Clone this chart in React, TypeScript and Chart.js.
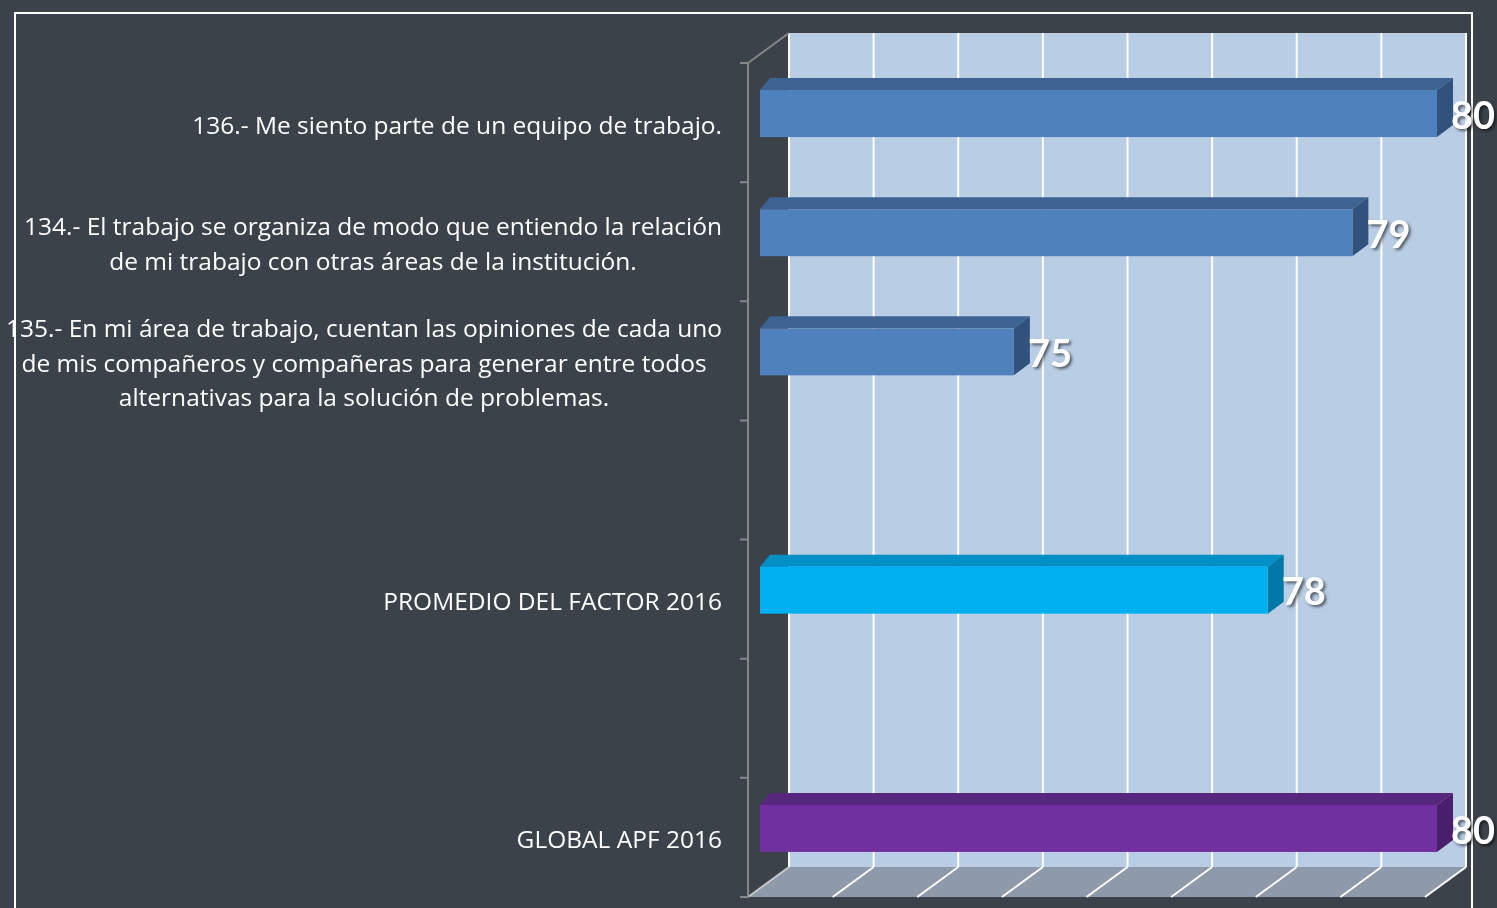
import React, { useEffect, useRef } from "react";
import { Chart, registerables } from "chart.js";

Chart.register(...registerables);

// ---------- data ----------
const categoryLines: string[][] = [
  ["136.- Me siento parte de un equipo de trabajo."],
  [
    "134.- El trabajo se organiza de modo que entiendo la relación",
    "de mi trabajo con otras áreas de la institución.",
  ],
  [
    "135.- En mi área de trabajo, cuentan las opiniones de cada uno",
    "de mis compañeros y compañeras para generar entre todos",
    "alternativas para la solución de problemas.",
  ],
  [""],
  ["PROMEDIO DEL FACTOR 2016"],
  [""],
  ["GLOBAL APF 2016"],
];
const values: (number | null)[] = [80, 79, 75, null, 78, null, 80];
const barKinds: string[] = ["item", "item", "item", "", "factor", "", "global"];
const axisMin = 72;
const axisMax = 80;
const axisStep = 1;

// ---------- styles ----------
const BG = "#3b424a";
const WALL = "#b9cde5";
const FLOOR = "#8e9aa9";
const palette: Record<string, { front: string; top: string; side: string }> = {
  item: { front: "#4f81bd", top: "#3d6392", side: "#30527d" },
  factor: { front: "#00b0f0", top: "#0090c6", side: "#0079a8" },
  global: { front: "#7030a0", top: "#57267d", side: "#4a1f6c" },
};
const LABEL_FONT = '24.5px "Open Sans", Lato, sans-serif';
const VALUE_FONT = 'bold 38px Lato, "Open Sans", sans-serif';

const WALL_DX = 41;
const WALL_DY = 30;
const BAR_DX = 12;
const BAR_DY = -9;
const TOP_DY = 12;
const LEFT_DEPTH = 10;
const RIGHT_DEPTH = 16;

const decorPlugin = {
  id: "decor3d",
  beforeDraw(chart: any) {
    const { ctx, width, height } = chart;
    ctx.save();
    ctx.fillStyle = BG;
    ctx.fillRect(0, 0, width, height);
    ctx.strokeStyle = "#ffffff";
    ctx.lineWidth = 2;
    ctx.strokeRect(15, 13, 1457, height + 20);
    ctx.restore();
  },
  beforeDatasetsDraw(chart: any) {
    const { ctx, chartArea } = chart;
    const xs = chart.scales.x;
    const { left, right, top, bottom } = chartArea;
    ctx.save();
    // back wall
    ctx.fillStyle = WALL;
    ctx.fillRect(left + WALL_DX, top - WALL_DY, right - left, bottom - top);
    // floor
    ctx.fillStyle = FLOOR;
    ctx.beginPath();
    ctx.moveTo(left, bottom);
    ctx.lineTo(right, bottom);
    ctx.lineTo(right + WALL_DX, bottom - WALL_DY);
    ctx.lineTo(left + WALL_DX, bottom - WALL_DY);
    ctx.closePath();
    ctx.fill();
    // grid lines
    ctx.lineWidth = 2;
    for (let v = axisMin; v <= axisMax; v += axisStep) {
      const xf = xs.getPixelForValue(v);
      const xb = xf + WALL_DX;
      ctx.strokeStyle = "#ffffff";
      ctx.beginPath();
      ctx.moveTo(xb, top - WALL_DY);
      ctx.lineTo(xb, bottom - WALL_DY);
      ctx.stroke();
      ctx.beginPath();
      ctx.strokeStyle = v === axisMin ? "#c8c8c8" : "#ffffff";
      ctx.moveTo(xf, bottom);
      ctx.lineTo(xb, bottom - WALL_DY);
      ctx.stroke();
    }
    // category axis
    ctx.strokeStyle = "#868686";
    ctx.lineWidth = 2;
    ctx.beginPath();
    ctx.moveTo(left, top);
    ctx.lineTo(left, bottom);
    ctx.moveTo(left, top);
    ctx.lineTo(left + WALL_DX, top - WALL_DY);
    const n = categoryLines.length;
    const slot = (bottom - top) / n;
    for (let k = 0; k <= n; k++) {
      const y = top + k * slot;
      ctx.moveTo(left - 8, y);
      ctx.lineTo(left, y);
    }
    ctx.stroke();
    ctx.restore();
  },
  afterDatasetsDraw(chart: any) {
    const { ctx, chartArea } = chart;
    const xs = chart.scales.x;
    const meta = chart.getDatasetMeta(0);
    const basePx = xs.getPixelForValue(axisMin);
    ctx.save();
    meta.data.forEach((el: any, i: number) => {
      const v = values[i];
      if (v == null) return;
      const p = el.getProps(["x", "y", "height"], true);
      const col = palette[barKinds[i]];
      const x0 = basePx + BAR_DX;
      const x1 = p.x + BAR_DX;
      const y0 = p.y - p.height / 2 + BAR_DY;
      const y1 = p.y + p.height / 2 + BAR_DY;
      // top face
      ctx.fillStyle = col.top;
      ctx.beginPath();
      ctx.moveTo(x0, y0);
      ctx.lineTo(x0 + LEFT_DEPTH, y0 - TOP_DY);
      ctx.lineTo(x1 + RIGHT_DEPTH, y0 - TOP_DY);
      ctx.lineTo(x1, y0);
      ctx.closePath();
      ctx.fill();
      // side face
      ctx.fillStyle = col.side;
      ctx.beginPath();
      ctx.moveTo(x1, y0);
      ctx.lineTo(x1 + RIGHT_DEPTH, y0 - TOP_DY);
      ctx.lineTo(x1 + RIGHT_DEPTH, y1 - TOP_DY);
      ctx.lineTo(x1, y1);
      ctx.closePath();
      ctx.fill();
      // front face
      ctx.fillStyle = col.front;
      ctx.fillRect(x0, y0, x1 - x0, y1 - y0);
      // value label
      ctx.save();
      ctx.font = VALUE_FONT;
      ctx.textAlign = "left";
      ctx.textBaseline = "middle";
      ctx.shadowColor = "rgba(0,0,0,0.55)";
      ctx.shadowOffsetX = 2;
      ctx.shadowOffsetY = 2;
      ctx.shadowBlur = 3;
      ctx.fillStyle = "#ffffff";
      ctx.fillText(String(v), x1 + RIGHT_DEPTH - 2, (y0 + y1) / 2 + 3);
      ctx.restore();
    });
    // category labels
    const n = categoryLines.length;
    const slot = (chartArea.bottom - chartArea.top) / n;
    ctx.font = LABEL_FONT;
    ctx.fillStyle = "#ffffff";
    ctx.textAlign = "center";
    ctx.textBaseline = "middle";
    const lineH = 34.5;
    const rightEdge = 722;
    categoryLines.forEach((lines, i) => {
      const cy = chartArea.top + (i + 0.5) * slot + 4;
      const widths = lines.map((l) => ctx.measureText(l).width);
      const bw = Math.max(...widths);
      const cx = rightEdge - bw / 2;
      lines.forEach((l, j) => {
        const y = cy + (j - (lines.length - 1) / 2) * lineH;
        ctx.fillText(l, cx, y);
      });
    });
    ctx.restore();
  },
};

export default function App() {
  const ref = useRef<HTMLCanvasElement | null>(null);
  useEffect(() => {
    if (!ref.current) return;
    const chart = new Chart(ref.current, {
      type: "bar",
      data: {
        labels: categoryLines.map((l) => l.join(" ")),
        datasets: [
          {
            data: values as any,
            backgroundColor: "rgba(0,0,0,0)",
            borderWidth: 0,
            barPercentage: 0.3945,
            categoryPercentage: 1,
          },
        ],
      },
      options: {
        indexAxis: "y",
        animation: false,
        responsive: false,
        devicePixelRatio: 1,
        layout: { padding: { left: 748, right: 72, top: 63, bottom: 11 } },
        plugins: { legend: { display: false }, tooltip: { enabled: false } },
        scales: {
          x: { display: false, min: axisMin, max: axisMax, grid: { display: false } },
          y: { display: false, grid: { display: false } },
        },
      },
      plugins: [decorPlugin],
    });
    return () => chart.destroy();
  }, []);
  return (
    <div
      style={{
        position: "fixed",
        left: 0,
        top: 0,
        width: 1497,
        height: 908,
        background: BG,
        overflow: "hidden",
      }}
    >
      <canvas ref={ref} width={1497} height={908} style={{ display: "block" }} />
    </div>
  );
}
